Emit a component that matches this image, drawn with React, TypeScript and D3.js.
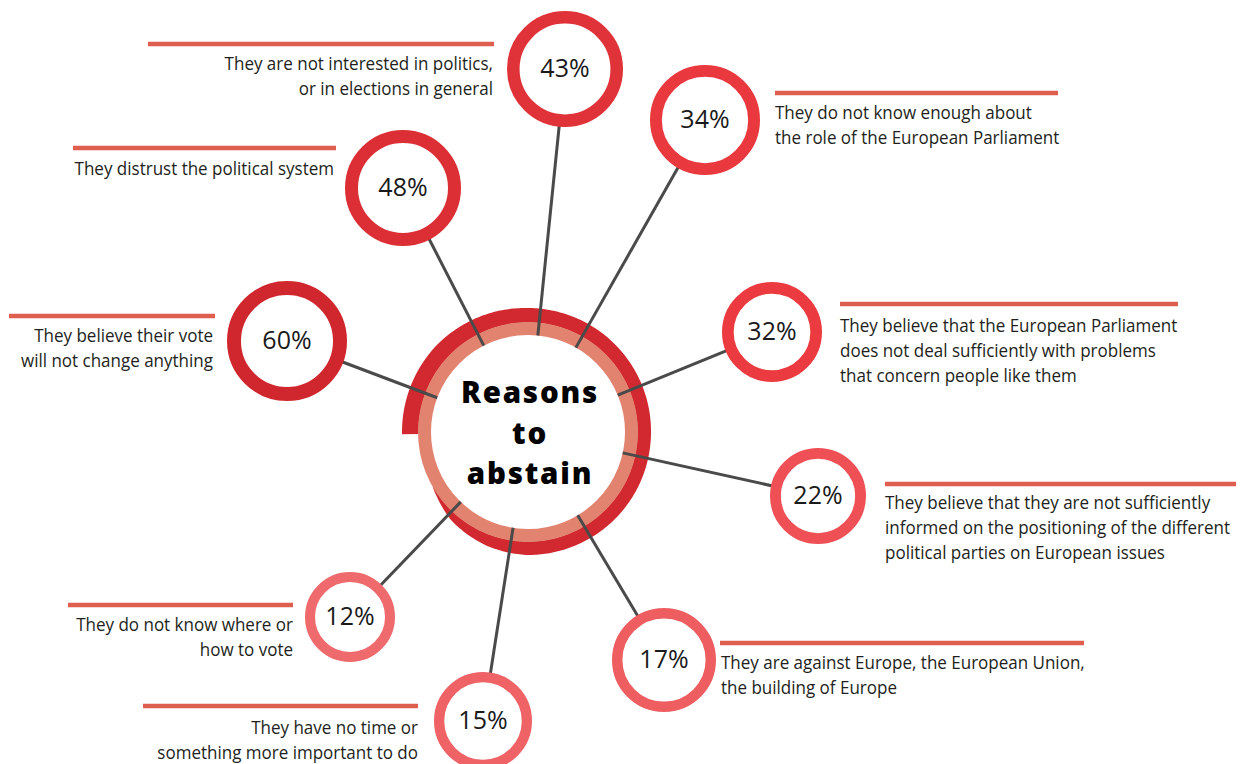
import React from 'react';
import * as d3 from 'd3';

// ---------- data ----------
const reasons: string[][] = [
  ["They believe their vote", "will not change anything"],
  ["They distrust the political system"],
  ["They are not interested in politics,", "or in elections in general"],
  ["They do not know enough about", "the role of the European Parliament"],
  ["They believe that the European Parliament", "does not deal sufficiently with problems", "that concern people like them"],
  ["They believe that they are not sufficiently", "informed on the positioning of the different", "political parties on European issues"],
  ["They are against Europe, the European Union,", "the building of Europe"],
  ["They have no time or", "something more important to do"],
  ["They do not know where or", "how to vote"],
];
const shares = [60, 48, 43, 34, 32, 22, 17, 15, 12];
const centerTitle = ["Reasons", "to", "abstain"];

// ---------- layout ----------
const W = 1244, H = 764;
const CX = 528, CY = 432;
const bubbleCenters: [number, number][] = [
  [287, 341], [403, 188], [565, 69], [705, 120], [772, 332],
  [818, 496], [664, 660], [483, 721], [350, 617],
];
const bubbleRadius = [60, 58, 58, 55, 50, 48, 52, 49, 45];
type LL = { anchor: 'start' | 'end'; x: number; x0: number; x1: number; ruleY: number; y: number };
const labelLayout: LL[] = [
  { anchor: 'end', x: 213, x0: 9, x1: 215, ruleY: 316, y: 342 },
  { anchor: 'end', x: 334, x0: 73, x1: 336, ruleY: 148, y: 175 },
  { anchor: 'end', x: 493, x0: 148, x1: 494, ruleY: 44, y: 70 },
  { anchor: 'start', x: 775, x0: 775, x1: 1058, ruleY: 93, y: 119 },
  { anchor: 'start', x: 840, x0: 840, x1: 1178, ruleY: 304, y: 332 },
  { anchor: 'start', x: 885, x0: 885, x1: 1236, ruleY: 484, y: 509 },
  { anchor: 'start', x: 721, x0: 720, x1: 1084, ruleY: 643, y: 669 },
  { anchor: 'end', x: 418, x0: 143, x1: 418, ruleY: 706, y: 734 },
  { anchor: 'end', x: 293, x0: 68, x1: 293, ruleY: 605, y: 631 },
];
const LINE_H = 25;
const TITLE_LINE_H = 40.5;
const RING_IN = 97, RING_OUT = 110;
// dark spiral thickness profile (angle deg, px)
const spiralAngles = [-91, -45, 0, 90, 180, 200, 221, 234, 240];
const spiralThick = [16, 16, 14, 13, 13, 11, 7, 2, 0];

const colorScale = d3.scaleLinear<string>().domain([12, 30, 60]).range(['#ef6a6c', '#ed3c42', '#cf272d']);
const strokeScale = d3.scaleLinear().domain([12, 60]).range([10, 14]);

export default function App() {
  const thick = d3.scaleLinear().domain(spiralAngles).range(spiralThick);
  const samples = d3.range(spiralAngles[0], spiralAngles[spiralAngles.length - 1] + 0.5, 1);
  const spiral = d3.areaRadial<number>()
    .angle((a) => (a * Math.PI) / 180)
    .innerRadius(RING_OUT - 0.5)
    .outerRadius((a) => RING_OUT + thick(a))
    .curve(d3.curveLinear)(samples) || '';

  return (
    <svg width={W} height={H} style={{ position: 'absolute', left: 0, top: 0, background: '#fff' }}
      fontFamily="'Open Sans', 'Noto Sans', sans-serif">
      <g transform={`translate(${CX},${CY})`}>
        <path d={spiral} fill="#d1292f" />
        <circle r={(RING_IN + RING_OUT) / 2} fill="#fff" stroke="#e2836f" strokeWidth={RING_OUT - RING_IN} />
      </g>
      {shares.map((v, i) => {
        const [bx, by] = bubbleCenters[i];
        const dx = bx - CX, dy = by - CY;
        const d = Math.hypot(dx, dy);
        const ux = dx / d, uy = dy / d;
        return (
          <line key={'s' + i} x1={CX + ux * RING_IN} y1={CY + uy * RING_IN} x2={bx} y2={by}
            stroke="#4a4a4a" strokeWidth={3} />
        );
      })}
      {shares.map((v, i) => {
        const [bx, by] = bubbleCenters[i];
        const sw = strokeScale(v);
        return (
          <g key={'b' + i}>
            <circle cx={bx} cy={by} r={bubbleRadius[i] - sw / 2} fill="#fff" stroke={colorScale(v)} strokeWidth={sw} />
            <text x={bx} y={by - 2} textAnchor="middle" dominantBaseline="central" fontSize={25} fill="#1a1a1a">
              {v}%
            </text>
          </g>
        );
      })}
      {reasons.map((lines, i) => {
        const L = labelLayout[i];
        return (
          <g key={'l' + i}>
            <line x1={L.x0} x2={L.x1} y1={L.ruleY} y2={L.ruleY} stroke="#de5f4f" strokeWidth={4.5} />
            <text transform={`translate(${L.x},${L.y}) scale(0.945,1)`} textAnchor={L.anchor} fontSize={18} fill="#231f20">
              {lines.map((t, j) => (
                <tspan key={j} x={0} y={j * LINE_H}>{t}</tspan>
              ))}
            </text>
          </g>
        );
      })}
      {centerTitle.map((t, j) => (
        <text key={'t' + j} x={CX + 2} y={CY - 29 + j * TITLE_LINE_H} textAnchor="middle"
          fontSize={29.5} letterSpacing={1.8} fontWeight={800} fill="#000">
          {t}
        </text>
      ))}
    </svg>
  );
}
